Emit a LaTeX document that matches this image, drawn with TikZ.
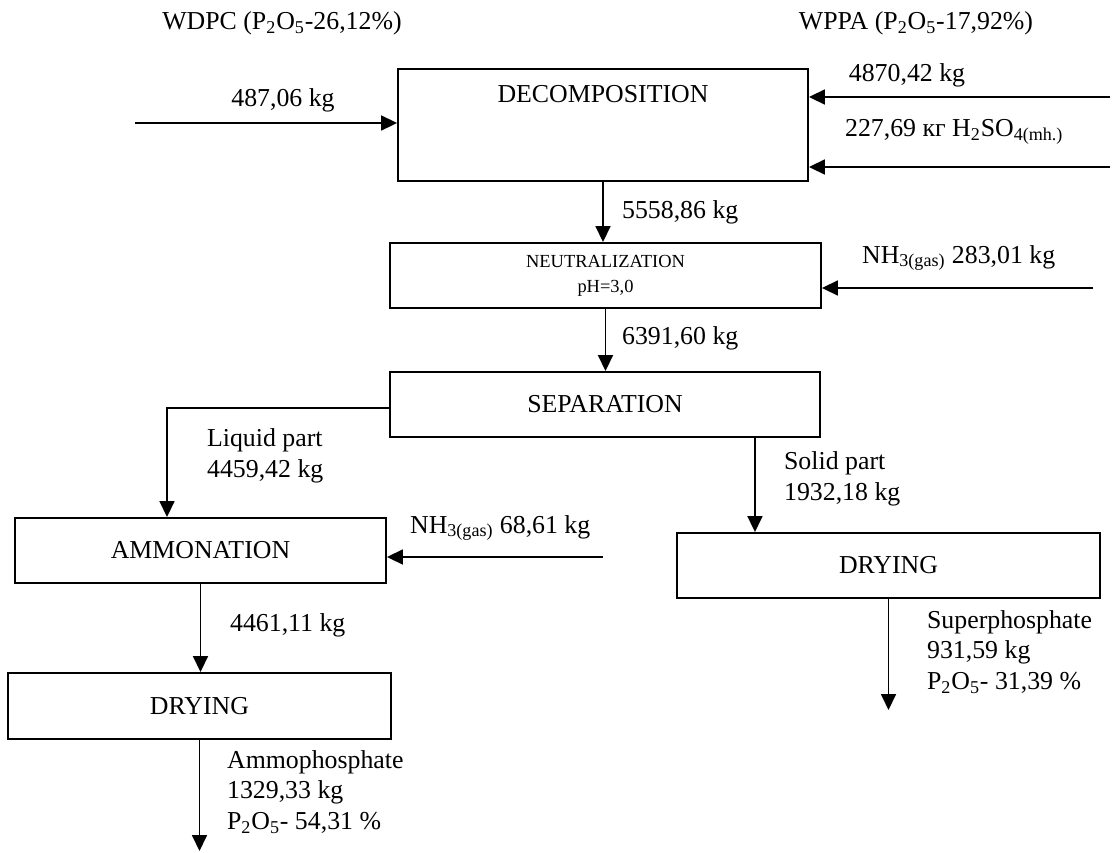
\documentclass[tikz,border=0pt]{standalone}
\usepackage{fontspec}
\setmainfont{Liberation Serif}
\usetikzlibrary{arrows.meta,positioning}

\begin{document}
\begin{tikzpicture}[
  x=0.02cm, y=-0.02cm,
  font=\fontsize{14.7}{17.4}\selectfont,
  procbox/.style={
    draw,
    line width=1.1pt,
    minimum height=1.3cm,
    inner sep=2pt
    },
  flow/.style={
    line width=1pt,
    -{Triangle[width=0.3cm,length=0.32cm]}
  },
  lbl/.style={inner sep=1pt, anchor=west, align=left}
]
\useasboundingbox (0,0) rectangle (1112,852);

% process units
\node[procbox, minimum width=8.2cm, minimum height=2.24cm] (decomp) at (603,125) {};
\node (decomptxt) at ([yshift=-0.52cm]decomp.north) {DECOMPOSITION};
\node[procbox, minimum width=8.62cm, align=center,
      font=\fontsize{10.5}{14.2}\selectfont] (neutr) at (605.5,275.5) {NEUTRALIZATION\\pH=3,0};
\node[procbox, minimum width=8.6cm] (separ) at (605,404.5) {SEPARATION};
\node[procbox, minimum width=7.42cm] (ammon) at (200.5,550.5) {AMMONATION};
\node[procbox, minimum width=7.66cm, minimum height=1.32cm] (dryL) at (199.5,706) {DRYING};
\node[procbox, minimum width=8.46cm] (dryR) at (888.5,565.5) {DRYING};

% free ends
\coordinate (wdpcin) at (135,123);
\coordinate (wppain) at (1110,97);
\coordinate (acidin) at (1110,167);
\coordinate (nhin1) at (1093,288);
\coordinate (nhin2) at (603,557);
\coordinate (ammoout) at (198,851);
\coordinate (superout) at (888,710);

% streams
\draw[flow] (wdpcin) -- (wdpcin -| decomp.west);
\draw[flow] (wppain) -- (wppain -| decomp.east);
\draw[flow] (acidin) -- (acidin -| decomp.east);
\draw[flow] (decomp.south) -- (decomp.south |- neutr.north);
\draw[flow] (nhin1) -- (nhin1 -| neutr.east);
\draw[flow] (neutr.south) -- (neutr.south |- separ.north);
\draw[flow] ([yshift=-0.07cm]separ.west) -| ([xshift=-0.67cm]ammon.north);
\draw[flow] ([xshift=3cm]separ.south) -- ([xshift=3cm]separ.south |- dryR.north);
\draw[flow] (nhin2) -- (nhin2 -| ammon.east);
\draw[flow] (ammon.south) -- (ammon.south |- dryL.north);
\draw[flow] (dryL.south) -- (dryL.south |- ammoout);
\draw[flow] (dryR.south) -- (dryR.south |- superout);

% labels
\node (wdpc) at (282,23) {WDPC (P\textsubscript{2}O\textsubscript{5}-26,12\%)};
\node (wppa) at (916,23) {WPPA (P\textsubscript{2}O\textsubscript{5}-17,92\%)};
\node (m487) at (283,100) {487,06 kg};
\node (m4870) at (907,75) {4870,42 kg};
\node[lbl] (acid) at (843,132) {227,69 кг H\textsubscript{2}SO\textsubscript{4(mh.)}};
\node[lbl] (m5558) at (620,212) {5558,86 kg};
\node[lbl] (nh3a) at (860,258) {NH\textsubscript{3(gas)} 283,01 kg};
\node[lbl] (m6391) at (620,338) {6391,60 kg};
\node[lbl] (liquid) at (205,456) {Liquid part\\4459,42 kg};
\node[lbl] (nh3b) at (408,528) {NH\textsubscript{3(gas)} 68,61 kg};
\node[lbl] (solid) at (782,479) {Solid part\\1932,18 kg};
\node[lbl] (m4461) at (228,625) {4461,11 kg};
\node[lbl] (ammoph) at (225,792) {Ammophosphate\\1329,33 kg\\P\textsubscript{2}O\textsubscript{5}- 54,31 \%};
\node[lbl] (superph) at (925,652) {Superphosphate\\931,59 kg\\P\textsubscript{2}O\textsubscript{5}- 31,39 \%};

\end{tikzpicture}
\end{document}
